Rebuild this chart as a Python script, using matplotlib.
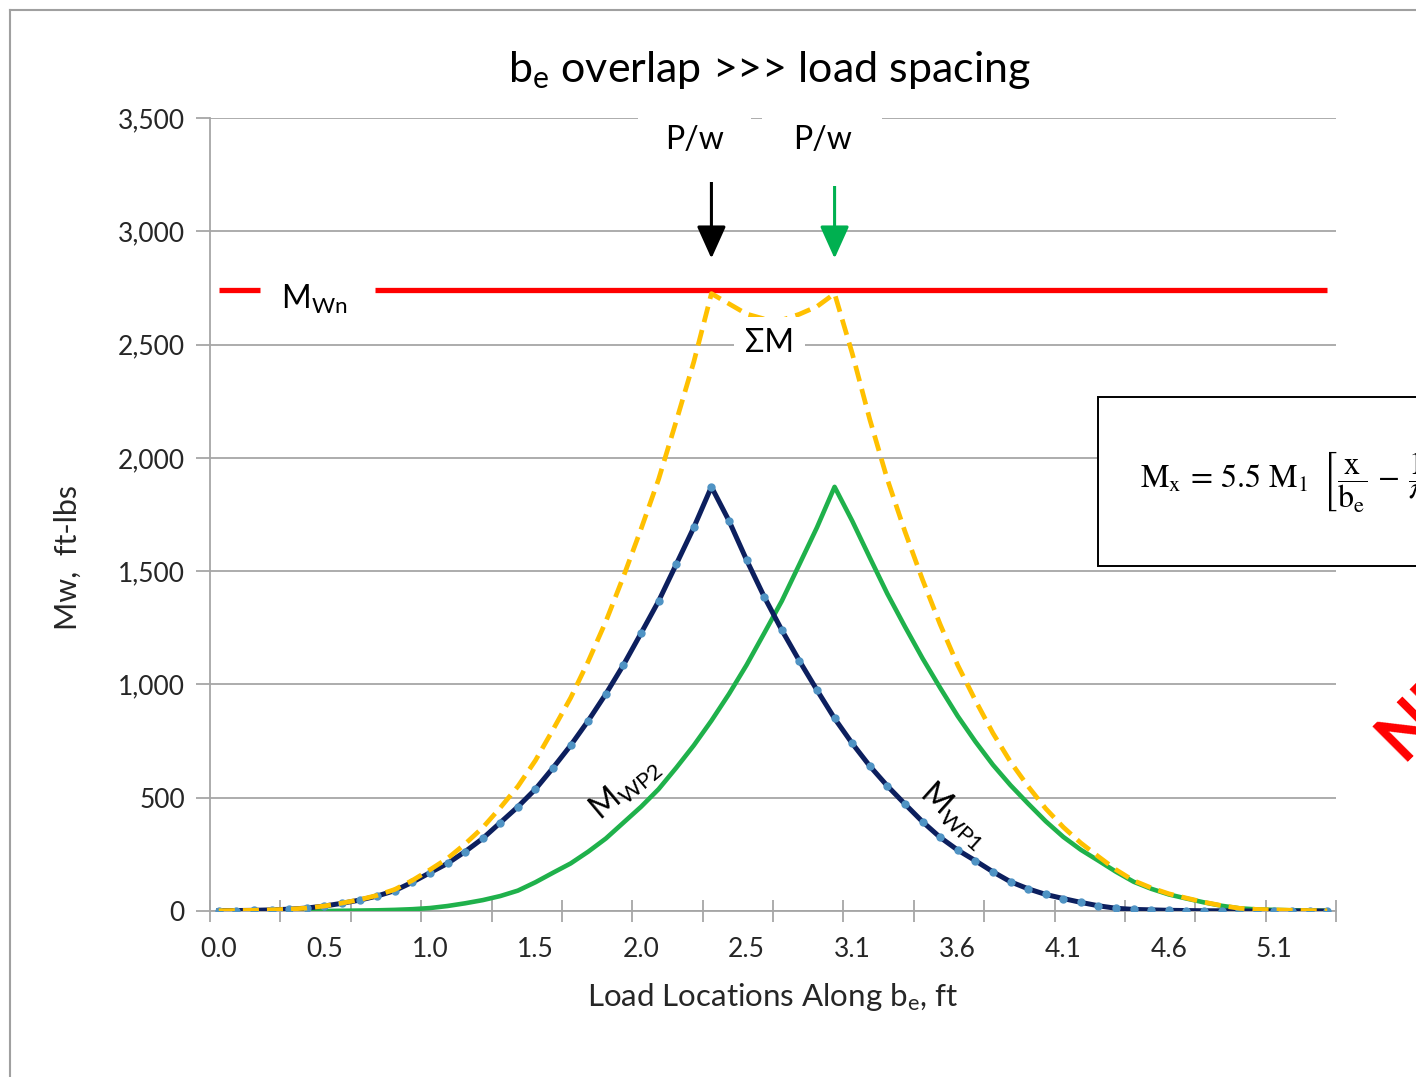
import matplotlib
matplotlib.use('Agg')
import matplotlib.pyplot as plt
from matplotlib.patches import Rectangle
from matplotlib.lines import Line2D
import numpy as np

plt.rcParams['font.family'] = ['Lato', 'DejaVu Sans']
plt.rcParams['mathtext.fontset'] = 'custom'
plt.rcParams['mathtext.rm'] = 'Lato'
plt.rcParams['mathtext.it'] = 'Lato:italic'
plt.rcParams['mathtext.bf'] = 'Lato:bold'

# moments along b_e (one value per load location), ft-lbs
m_wp1 = [1, 2, 3, 5, 8, 13, 22, 34, 48, 66,
         90, 127, 169, 210, 262, 320, 390, 460, 538, 632,
         731, 840, 958, 1086, 1226, 1368, 1530, 1693, 1872, 1722,
         1549, 1387, 1240, 1104, 975, 850, 740, 640, 552, 472,
         394, 325, 269, 222, 173, 129, 98, 73, 55, 38,
         23, 12, 7, 5, 3, 2, 1, 1, 0, 0,
         0, 0, 0, 0]
m_wp2 = [0, 0, 0, 0, 0, 0, 0, 1, 2, 3,
         5, 8, 13, 22, 34, 48, 66, 90, 127, 169,
         210, 262, 320, 390, 460, 538, 632, 731, 840, 958,
         1086, 1226, 1368, 1530, 1693, 1872, 1722, 1560, 1400, 1255,
         1115, 985, 860, 748, 645, 555, 474, 396, 327, 270,
         222, 173, 129, 98, 73, 55, 38, 23, 12, 7,
         5, 3, 2, 1]
m_sum = [1, 2, 3, 5, 8, 13, 22, 35, 50, 69,
         95, 135, 182, 232, 296, 368, 456, 550, 665, 801,
         941, 1102, 1278, 1476, 1686, 1906, 2162, 2424, 2725, 2680,
         2635, 2613, 2608, 2634, 2668, 2725, 2462, 2170, 1905, 1675,
         1462, 1265, 1085, 930, 785, 658, 550, 452, 370, 300,
         240, 182, 134, 102, 76, 57, 39, 24, 12, 7,
         5, 3, 2, 1]
m_wn = 2740
x_labels = ["0.0", "0.5", "1.0", "1.5", "2.0", "2.5", "3.1", "3.6", "4.1", "4.6", "5.1"]
load_idx = [28, 35]

n = len(m_wp1)
x = np.arange(n)

fig = plt.figure(figsize=(14.16, 10.77), dpi=100)
ax = fig.add_axes([210/1416, 1-911/1077, 1126/1416, 793/1077])

grid_c = '#a6a6a6'
txt_c = '#262626'
ax.set_axisbelow(True)
ax.yaxis.grid(True, color=grid_c, lw=1.3)
ax.set_ylim(0, 3500)
ax.set_yticks(np.arange(0, 3501, 500))
ax.set_yticklabels(['{:,}'.format(v) for v in range(0, 3501, 500)])
ax.set_xlim(-0.5, n - 0.5)
ax.set_xticks(np.arange(0, n, 6)[:len(x_labels)])
ax.set_xticklabels(x_labels)
ax.set_xticks(np.arange(-0.5, n, 4), minor=True)
ax.tick_params(axis='x', which='major', length=0, pad=19, labelsize=19, labelcolor=txt_c)
ax.tick_params(axis='x', which='minor', direction='inout', length=16, width=1.3, color=grid_c)
ax.tick_params(axis='y', length=10, width=1.3, color=grid_c, labelsize=19, labelcolor=txt_c, pad=8)
for s in ['top', 'right']:
    ax.spines[s].set_visible(False)
for s in ['left', 'bottom']:
    ax.spines[s].set_color(grid_c)
    ax.spines[s].set_linewidth(1.3)

# M_Wn line with gap for its label
ax.hlines([m_wn, m_wn], [0, 8.9], [2.35, n - 1], color='#ff0000', lw=3.8, zorder=3)
ax.text(5.4, 2700, r'M$_\mathrm{Wn}$', fontsize=23, ha='center', va='center')

ax.plot(x, m_wp2, color='#1fb14b', lw=3.3, zorder=4)
ax.plot(x, m_wp1, color='#0c1f5e', lw=3.6, zorder=5,
        marker='o', ms=5, mfc='#4f93c4', mec='#4f93c4')
ax.plot(x, m_sum, color='#ffc000', lw=3.4, ls=(0, (3.4, 1.7)), zorder=6)

# loads
for i, c in zip(load_idx, ['black', '#00b050']):
    ax.annotate('', xy=(i, 2880), xytext=(i, 3295),
                arrowprops=dict(arrowstyle='-|>,head_width=0.45,head_length=1.0',
                                mutation_scale=20, color=c, lw=2.2,
                                shrinkA=0, shrinkB=0))
ax.text(27.06, 3402, 'P/w', fontsize=23, ha='center', va='center', zorder=7,
        bbox=dict(boxstyle='square,pad=0.85', fc='white', ec='none'))
ax.text(34.3, 3402, 'P/w', fontsize=23, ha='center', va='center', zorder=7,
        bbox=dict(boxstyle='square,pad=0.95', fc='white', ec='none'))
ax.text(31.3, 2507, 'ΣM', fontsize=23, ha='center', va='center', zorder=7,
        bbox=dict(boxstyle='square,pad=0.35', fc='white', ec='none'))

ax.text(23.1, 540, r'M$_\mathrm{WP2}$', fontsize=23, rotation=40,
        ha='center', va='center', zorder=8)
ax.text(41.8, 420, r'M$_\mathrm{WP1}$', fontsize=23, rotation=-42,
        ha='center', va='center', zorder=8)

# titles
fig.text(770/1416, 1-70/1077, r'b$_\mathrm{e}$ overlap >>> load spacing',
         fontsize=31, ha='center', va='center')
fig.text(773/1416, 1-997/1077, r'Load Locations Along b$_\mathrm{e}$, ft',
         fontsize=22.5, ha='center', va='center', color=txt_c)
fig.text(68/1416, 1-557/1077, 'Mw,  ft-lbs', fontsize=22, rotation=90,
         ha='center', va='center', color=txt_c)

# formula box (runs off the right edge, as on the slide)
fig.add_artist(Rectangle((1098/1416, 1-566/1077), 0.3, 169/1077,
                         transform=fig.transFigure, fc='white', ec='black',
                         lw=1.4, zorder=10))
fig.text(1140/1416, 1-482/1077,
         r'$\mathrm{M_x}\,=\,5.5\ \mathrm{M_1}\;\;\left[\dfrac{\mathrm{x}}{\mathrm{b_e}}\,-\,\dfrac{1}{\pi}\,\sin\left(\dfrac{\pi\,\mathrm{x}}{\mathrm{b_e}}\right)\right]$',
         fontsize=23, ha='left', va='center', math_fontfamily='stix', zorder=11)

fig.text(1402/1416, 1-762/1077, 'NEW', color='#ff0000', fontsize=50,
         fontweight='bold', rotation=45, rotation_mode='anchor',
         ha='left', va='baseline', zorder=12)

# slide frame
fig.add_artist(Line2D([10/1416, 1], [1-10/1077, 1-10/1077], color='#a0a0a0', lw=1.5))
fig.add_artist(Line2D([10/1416, 10/1416], [0, 1-10/1077], color='#a0a0a0', lw=1.5))

fig.savefig('out.png', dpi=100)
